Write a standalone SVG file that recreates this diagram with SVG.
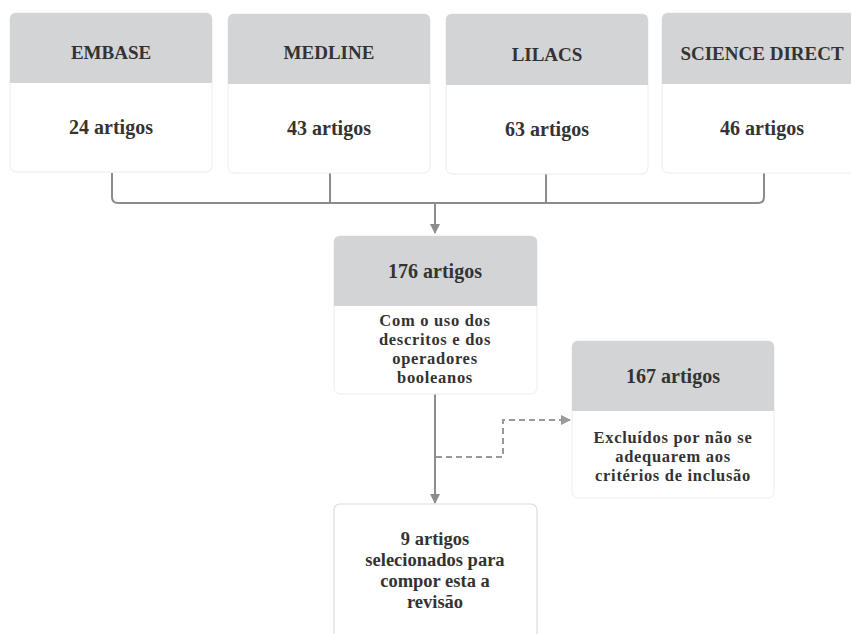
<svg xmlns="http://www.w3.org/2000/svg" width="851" height="634" viewBox="0 0 851 634">
<defs>
<style>
.hd{fill:#d3d4d6}
.bd{fill:#fff;stroke:#ececec;stroke-width:1}
.t{font-family:"Liberation Serif",serif;font-weight:bold;fill:#333;text-anchor:middle}
.h{font-size:19px}
.b{font-size:20px}
.s{font-size:16.5px;letter-spacing:0.7px}
.f{font-size:18.5px}
.ln{fill:none;stroke:#8c8c8c;stroke-width:2}
.dl{fill:none;stroke:#9a9a9a;stroke-width:2;stroke-dasharray:6 4}
</style>
<marker id="ar" viewBox="0 0 10 10" refX="9" refY="5" markerWidth="5" markerHeight="5" orient="auto"><path d="M0,0 L10,5 L0,10 z" fill="#8c8c8c"/></marker>
<marker id="ard" viewBox="0 0 10 10" refX="9" refY="5" markerWidth="5" markerHeight="5" orient="auto"><path d="M0,0 L10,5 L0,10 z" fill="#9a9a9a"/></marker>
</defs>
<rect width="851" height="634" fill="#fff"/>
<g id="connectors">
<path class="ln" d="M112,173 V197 Q112,203 118,203 H758 Q764,203 764,197 V173"/>
<path class="ln" d="M330,173 V203"/>
<path class="ln" d="M546,173 V203"/>
<path class="ln" d="M435,203 V233" marker-end="url(#ar)"/>
<path class="ln" d="M435,394 V503" marker-end="url(#ar)"/>
<path class="dl" d="M436,457 H503 V420 H570" marker-end="url(#ard)"/>
</g>
<g id="embase">
<rect class="bd" x="10" y="13" width="202" height="159" rx="6"/>
<path class="hd" d="M10,83 V19 Q10,13 16,13 H206 Q212,13 212,19 V83 z"/>
<text class="t h" x="111" y="59">EMBASE</text>
<text class="t b" x="111" y="134">24 artigos</text>
</g>
<g id="medline">
<rect class="bd" x="228" y="14" width="202" height="159" rx="6"/>
<path class="hd" d="M228,84 V20 Q228,14 234,14 H424 Q430,14 430,20 V84 z"/>
<text class="t h" x="329" y="59">MEDLINE</text>
<text class="t b" x="329" y="135">43 artigos</text>
</g>
<g id="lilacs">
<rect class="bd" x="446" y="14" width="202" height="160" rx="6"/>
<path class="hd" d="M446,85 V20 Q446,14 452,14 H642 Q648,14 648,20 V85 z"/>
<text class="t h" x="547" y="61">LILACS</text>
<text class="t b" x="547" y="136">63 artigos</text>
</g>
<g id="sciencedirect">
<rect class="bd" x="662" y="13" width="202" height="160" rx="6"/>
<path class="hd" d="M662,84 V19 Q662,13 668,13 H858 Q864,13 864,19 V84 z"/>
<text class="t h" x="762" y="60">SCIENCE DIRECT</text>
<text class="t b" x="762" y="135">46 artigos</text>
</g>
<g id="total">
<rect class="bd" x="334" y="236" width="203" height="158" rx="6"/>
<path class="hd" d="M334,306 V242 Q334,236 340,236 H531 Q537,236 537,242 V306 z"/>
<text class="t b" x="435" y="278">176 artigos</text>
<text class="t s" x="435" y="326">Com o uso dos</text>
<text class="t s" x="435" y="345">descritos e dos</text>
<text class="t s" x="435" y="364">operadores</text>
<text class="t s" x="435" y="383">booleanos</text>
</g>
<g id="excluded">
<rect class="bd" x="572" y="341" width="202" height="157" rx="6"/>
<path class="hd" d="M572,411 V347 Q572,341 578,341 H768 Q774,341 774,347 V411 z"/>
<text class="t b" x="673" y="383">167 artigos</text>
<text class="t s" x="673" y="443">Excluídos por não se</text>
<text class="t s" x="673" y="462">adequarem aos</text>
<text class="t s" x="673" y="481">critérios de inclusão</text>
</g>
<g id="selected">
<rect x="334" y="504" width="203" height="150" rx="6" fill="#fff" stroke="#dcdcdc" stroke-width="1.2"/>
<text class="t f" x="435" y="545">9 artigos</text>
<text class="t f" x="435" y="566">selecionados para</text>
<text class="t f" x="435" y="587">compor esta a</text>
<text class="t f" x="435" y="608">revisão</text>
</g>
</svg>
